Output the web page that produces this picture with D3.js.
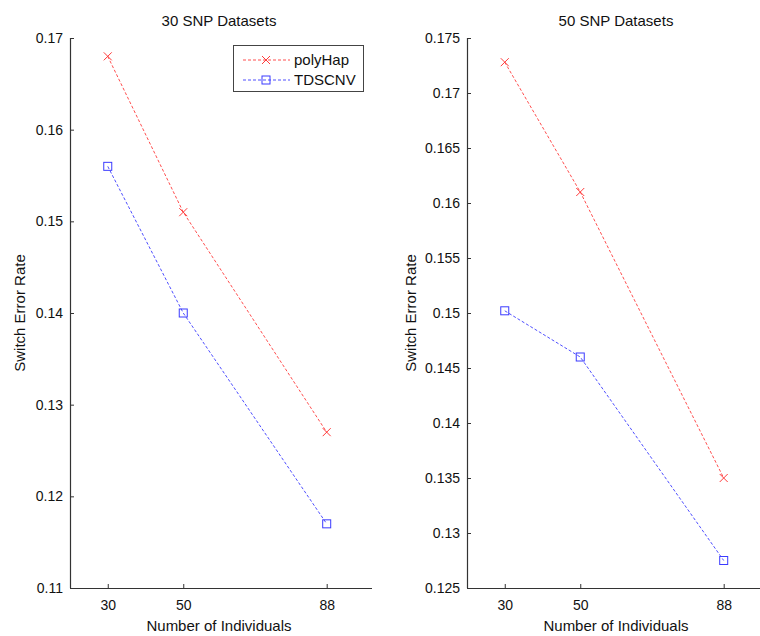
<!DOCTYPE html>
<html>
<head>
<meta charset="utf-8">
<script src="https://cdn.jsdelivr.net/npm/d3@7"></script>
<style>
  body { margin: 0; background: #fff; }
  svg text { font-family: "Liberation Sans", Arial, sans-serif; fill: #111; }
</style>
</head>
<body>
<svg id="chart" width="760" height="636"></svg>
<script>
// data
var individuals = [30, 50, 88];
var seriesNames = ["polyHap", "TDSCNV"];
var snp30Poly = [0.168, 0.151, 0.127];
var snp30Tds = [0.156, 0.140, 0.117];
var snp50Poly = [0.1728, 0.161, 0.135];
var snp50Tds = [0.1502, 0.146, 0.1275];
var yTicks30 = [0.11, 0.12, 0.13, 0.14, 0.15, 0.16, 0.17];
var yTicks50 = [0.125, 0.13, 0.135, 0.14, 0.145, 0.15, 0.155, 0.16, 0.165, 0.17, 0.175];

var colors = { polyHap: "#ff3b3b", TDSCNV: "#3b3bff" };

const svg = d3.select("#chart");

const panels = [
    { title: "30 SNP Datasets", left: 70, right: 372, yDomain: [0.11, 0.17], yTicks: yTicks30,
      series: [snp30Poly, snp30Tds], legend: true, ylabOff: 45 },
    { title: "50 SNP Datasets", left: 467, right: 769, yDomain: [0.125, 0.175], yTicks: yTicks50,
      series: [snp50Poly, snp50Tds], legend: false, ylabOff: 51 }
];

const plotTop = 38, plotBottom = 588;

panels.forEach(p => {
    const g = svg.append("g");

    const x = d3.scaleLinear().domain([20, 100]).range([p.left, p.right]);
    const y = d3.scaleLinear().domain(p.yDomain).range([plotBottom, plotTop]);

    // axes, ticks pointing inwards
    const xAxis = d3.axisBottom(x).tickValues(individuals).tickSize(-4).tickPadding(12)
        .tickFormat(d3.format("d"));
    const yAxis = d3.axisLeft(y).tickValues(p.yTicks).tickSize(-4).tickPadding(7)
        .tickFormat(d => d3.format("~g")(+d.toFixed(3)));

    const gx = g.append("g").attr("transform", `translate(0,${plotBottom})`).call(xAxis);
    const gy = g.append("g").attr("transform", `translate(${p.left},0)`).call(yAxis);

    [gx, gy].forEach(a => {
        a.select(".domain").attr("stroke", "#333").attr("stroke-width", 1.2);
        a.selectAll(".tick line").attr("stroke", "#333");
        a.selectAll(".tick text").attr("font-size", 14).attr("fill", "#000")
            .attr("font-family", "Liberation Sans, Arial, sans-serif");
    });
    // no outer tick stubs on domain
    gx.select(".domain").attr("d", `M${p.left},0.5H${p.right}`);
    gy.select(".domain").attr("d", `M0.5,${plotBottom}V${plotTop}`);

    // title and axis labels
    g.append("text")
        .attr("x", (p.left + p.right) / 2 - 2).attr("y", 26)
        .attr("text-anchor", "middle").attr("font-size", 15)
        .text(p.title);
    g.append("text")
        .attr("x", (p.left + p.right) / 2 - 2).attr("y", 631)
        .attr("text-anchor", "middle").attr("font-size", 15)
        .text("Number of Individuals");
    g.append("text")
        .attr("transform", `translate(${p.left - p.ylabOff},${(plotTop + plotBottom) / 2}) rotate(-90)`)
        .attr("text-anchor", "middle").attr("font-size", 15)
        .text("Switch Error Rate");

    // lines
    const line = d3.line().x((d, i) => x(individuals[i])).y(d => y(d));
    p.series.forEach((vals, si) => {
        const c = colors[seriesNames[si]];
        g.append("path")
            .datum(vals)
            .attr("d", line)
            .attr("fill", "none")
            .attr("stroke", c)
            .attr("stroke-width", 0.9)
            .attr("stroke-dasharray", "3,2");

        const m = g.selectAll(null).data(vals).join("g")
            .attr("transform", (d, i) => `translate(${x(individuals[i])},${y(d)})`);
        drawMarker(m, si, c);
    });

    if (p.legend) {
        const lg = g.append("g").attr("transform", "translate(233,45)");
        lg.append("rect").attr("x", 0.5).attr("y", 0.5).attr("width", 130).attr("height", 46)
            .attr("fill", "#fff").attr("stroke", "#444").attr("stroke-width", 1);
        seriesNames.forEach((name, si) => {
            const yy = 15 + si * 20;
            lg.append("line").attr("x1", 10).attr("x2", 57).attr("y1", yy).attr("y2", yy)
                .attr("stroke", colors[name]).attr("stroke-width", 0.9)
                .attr("stroke-dasharray", "3,2");
            const m = lg.append("g").attr("transform", `translate(33,${yy})`);
            drawMarker(m, si, colors[name]);
            lg.append("text").attr("x", 61).attr("y", yy).attr("dy", "0.35em")
                .attr("font-size", 15).text(name);
        });
    }
});

function drawMarker(sel, si, c) {
    if (si === 0) {
        sel.append("path").attr("d", "M-4,-4L4,4M-4,4L4,-4")
            .attr("stroke", c).attr("stroke-width", 1).attr("fill", "none");
    } else {
        sel.append("rect").attr("x", -4).attr("y", -4).attr("width", 8).attr("height", 8)
            .attr("stroke", c).attr("stroke-width", 1).attr("fill", "none");
    }
}
</script>
</body>
</html>
